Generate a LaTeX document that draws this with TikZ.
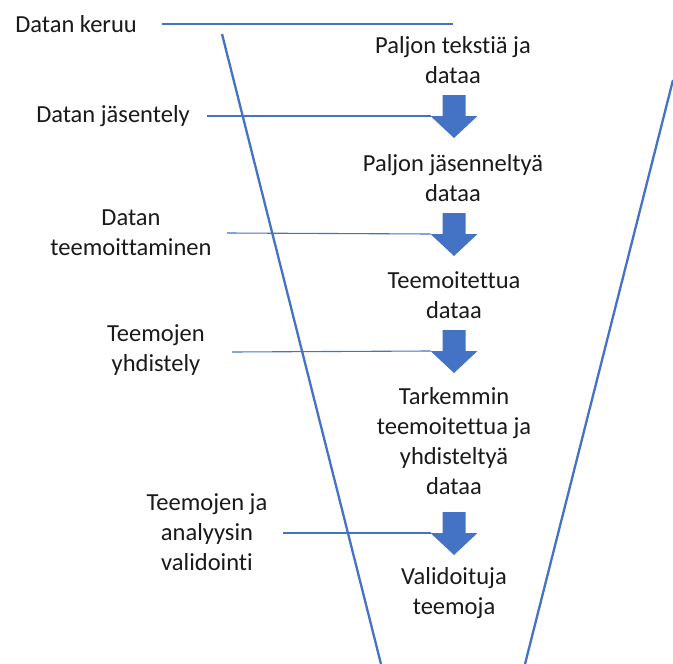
\documentclass[tikz,border=0pt]{standalone}
\usepackage{fontspec}
\setmainfont{Carlito}[Ligatures=NoCommon]
\definecolor{funnelblue}{HTML}{4472C4}
\definecolor{textdark}{HTML}{1A1A1A}
\begin{document}
\begin{tikzpicture}[x=1pt,y=-1pt,
  lbl/.style={font=\fontsize{24.5}{30}\selectfont, text=textdark, align=center, inner sep=0pt, anchor=center},
  funnel/.style={draw=funnelblue, line width=2.3pt},
  stage/.style={draw=funnelblue, line width=1.1pt},
  blockarrow/.pic={\fill[funnelblue] (-11.5,0) -- (11.5,0) -- (11.5,21) -- (23.5,21) -- (0,43) -- (-23.5,21) -- (-11.5,21) -- cycle;
    \coordinate (-corner) at (-23.5,21);}]
\fill[white] (0,0) rectangle (673,664);
\useasboundingbox (0,0) rectangle (673,664);

% funnel sides
\draw[funnel] (222,34) -- (381,664);
\draw[funnel] (525,664) -- (673,80);

% block arrows between the stages
\pic (a1) at (454,95) {blockarrow};
\pic (a2) at (454,213) {blockarrow};
\pic (a3) at (454,330) {blockarrow};
\pic (a4) at (454,512) {blockarrow};

% contents of the funnel
\node[lbl] (c1) at (453,60) {Paljon tekstiä ja\\dataa};
\node[lbl] (c2) at (453,178) {Paljon jäsenneltyä\\dataa};
\node[lbl] (c3) at (454,295) {Teemoitettua\\dataa};
\node[lbl] (c4) at (454,441) {Tarkemmin\\teemoitettua ja\\yhdisteltyä\\dataa};
\node[lbl] (c5) at (454,593) {Validoituja\\teemoja};

% process steps
\node[lbl] (s1) at (76,24) {Datan keruu};
\node[lbl] (s2) at (113,116) {Datan jäsentely};
\node[lbl] (s3) at (131,233) {Datan\\teemoittaminen};
\node[lbl] (s4) at (156,350) {Teemojen\\yhdistely};
\node[lbl] (s5) at (207,532) {Teemojen ja\\analyysin\\validointi};

% leader lines from the steps
\coordinate (k1) at (162,24);
\coordinate (k1e) at (453,24);
\coordinate (k2) at (207,116);
\coordinate (k3) at (227,233);
\coordinate (k4) at (232,352);
\coordinate (k5) at (283,533);
\draw[stage] (k1) -- (k1e);
\draw[stage] (k2) -- (a1-corner);
\draw[stage] (k3) -- (a2-corner);
\draw[stage] (k4) -- (a3-corner);
\draw[stage] (k5) -- (a4-corner);
\end{tikzpicture}
\end{document}
